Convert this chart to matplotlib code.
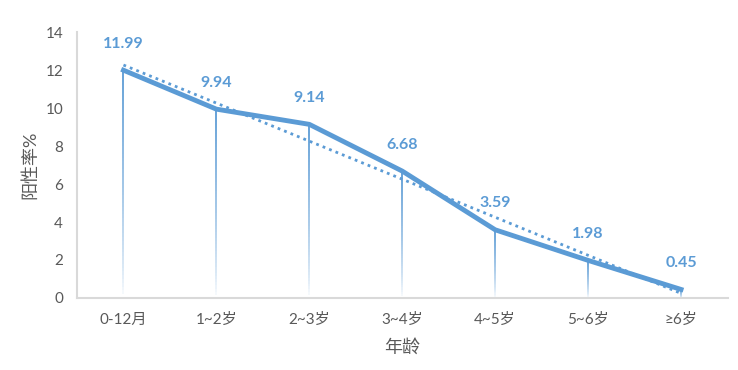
import numpy as np
import matplotlib
matplotlib.use("Agg")
import matplotlib.pyplot as plt
from matplotlib.collections import LineCollection
from matplotlib.colors import to_rgba

plt.rcParams['font.family'] = ['Lato', 'Noto Sans CJK SC', 'DejaVu Sans']

age_groups = ['0-12月', '1~2岁', '2~3岁', '3~4岁', '4~5岁', '5~6岁', '≥6岁']
positive_rate = [11.99, 9.94, 9.14, 6.68, 3.59, 1.98, 0.45]

blue = '#5B9BD5'
gray = '#595959'

fig = plt.figure(figsize=(7.38, 3.7), dpi=100)
ax = fig.add_axes([0.1043, 0.1946, 0.8815, 0.7189])

x = np.arange(len(age_groups))
y = np.array(positive_rate)

# drop lines fading to white
base = np.array(to_rgba(blue))
for xi, yi in zip(x, y):
    n = 60
    ys = np.linspace(0, yi, n + 1)
    segs = [[(xi, ys[i]), (xi, ys[i + 1])] for i in range(n)]
    cols = []
    for i in range(n):
        c = base.copy()
        c[3] = 0.95 * (i / n) ** 0.7
        cols.append(c)
    ax.add_collection(LineCollection(segs, colors=cols, linewidths=1.4, zorder=2))

# linear trendline
k, b = np.polyfit(x, y, 1)
ax.plot(x, k * x + b, color=blue, lw=2, ls=(0, (1, 1.5)), zorder=3)

ax.plot(x, y, color=blue, lw=3.5, solid_joinstyle='round', zorder=4)

for xi, yi in zip(x, y):
    ax.annotate(f'{yi:.2f}', (xi, yi), xytext=(0, 19), textcoords='offset points',
                ha='center', va='center', color=blue, fontsize=11.5, fontweight='bold')

ax.set_xlim(-0.5, len(age_groups) - 0.5)
ax.set_ylim(0, 14)
ax.set_yticks(range(0, 15, 2))
ax.set_xticks(x)
ax.set_xticklabels(age_groups)
ax.tick_params(length=0, colors=gray, labelsize=11)
ax.tick_params(axis='x', pad=11)
ax.tick_params(axis='y', pad=10)

for s in ['top', 'right']:
    ax.spines[s].set_visible(False)
for s in ['left', 'bottom']:
    ax.spines[s].set_color('#D9D9D9')
    ax.spines[s].set_linewidth(1.5)

ax.set_xlabel('年龄', color=gray, fontsize=13, labelpad=8)
ax.set_ylabel('阳性率%', color=gray, fontsize=13, labelpad=5)

fig.savefig('out.png', dpi=100)
